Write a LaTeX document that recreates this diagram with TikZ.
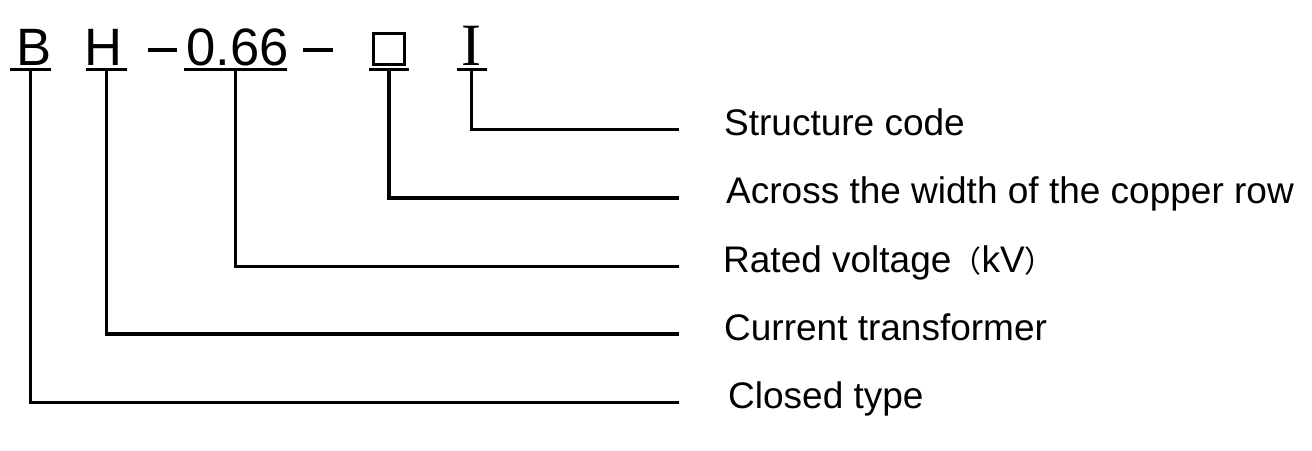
\documentclass[tikz,border=0pt]{standalone}
\usepackage{fontspec}
\setmainfont{Liberation Sans}
\newfontfamily\serifI{Liberation Serif}
\newfontfamily\cjk{Noto Sans CJK SC}
\begin{document}
\begin{tikzpicture}[x=1pt,y=-1pt,
  code/.style={inner sep=0pt,anchor=base,font=\fontsize{52.6}{60}\selectfont},
  lbl/.style={inner sep=0pt,anchor=base west,font=\fontsize{37}{42}\selectfont},
  thick3/.style={line width=3.2pt},
  conn/.style={line width=3.2pt,line join=miter}]
\useasboundingbox (0,0) rectangle (1312,450);
% code letters
\node[code] (B) at (34,65.7) {B};
\node[code] (H) at (103.5,65.7) {H};
\node[code] (V) at (237.5,65.7) {0.66};
\node[code,font=\fontsize{60}{70}\serifI] (I) at (471,65.7) {I};
\node[draw,thick3,minimum width=31pt,minimum height=31pt,inner sep=0pt] (Q) at (389,49) {};
% dashes
\coordinate (d1a) at (148,50); \coordinate (d1b) at (177,50);
\coordinate (d2a) at (303,50); \coordinate (d2b) at (333,50);
\draw[thick3] (d1a) -- (d1b);
\draw[thick3] (d2a) -- (d2b);
% underlines
\coordinate (uBa) at (10,69.3); \coordinate (uBb) at (51,69.3);
\coordinate (uHa) at (86,69.3); \coordinate (uHb) at (127,69.3);
\coordinate (uVa) at (184,69.3); \coordinate (uVb) at (287,69.3);
\coordinate (uQa) at (369,69.3); \coordinate (uQb) at (409,69.3);
\coordinate (uIa) at (457,69.3); \coordinate (uIb) at (487,69.3);
\draw[thick3] (uBa) -- (uBb);
\draw[thick3] (uHa) -- (uHb);
\draw[thick3] (uVa) -- (uVb);
\draw[thick3] (uQa) -- (uQb);
\draw[thick3] (uIa) -- (uIb);
\coordinate (tB) at (30.7,69.3);
\coordinate (tH) at (106.7,69.3);
\coordinate (tV) at (235.7,69.3);
\coordinate (tQ) at (389,69.3);
\coordinate (tI) at (471.7,69.3);
% labels
\node[lbl] (l1) at (724,135) {Structure code};
\node[lbl] (l2) at (726,203) {Across the width of the copper row};
\node[lbl] (l3) at (723,272) {Rated voltage{\cjk\fontsize{30}{36}\selectfont（}kV{\cjk\fontsize{30}{36}\selectfont）}};
\node[lbl] (l4) at (724,340) {Current transformer};
\node[lbl] (l5) at (728,408) {Closed type};
% line ends
\coordinate (e1) at (679,129.3);
\coordinate (e2) at (679,198);
\coordinate (e3) at (679,266.7);
\coordinate (e4) at (679,334);
\coordinate (e5) at (679,402.7);
\draw[conn] (tI) |- (e1);
\draw[conn] (tQ) |- (e2);
\draw[conn] (tV) |- (e3);
\draw[conn] (tH) |- (e4);
\draw[conn] (tB) |- (e5);
\end{tikzpicture}
\end{document}
